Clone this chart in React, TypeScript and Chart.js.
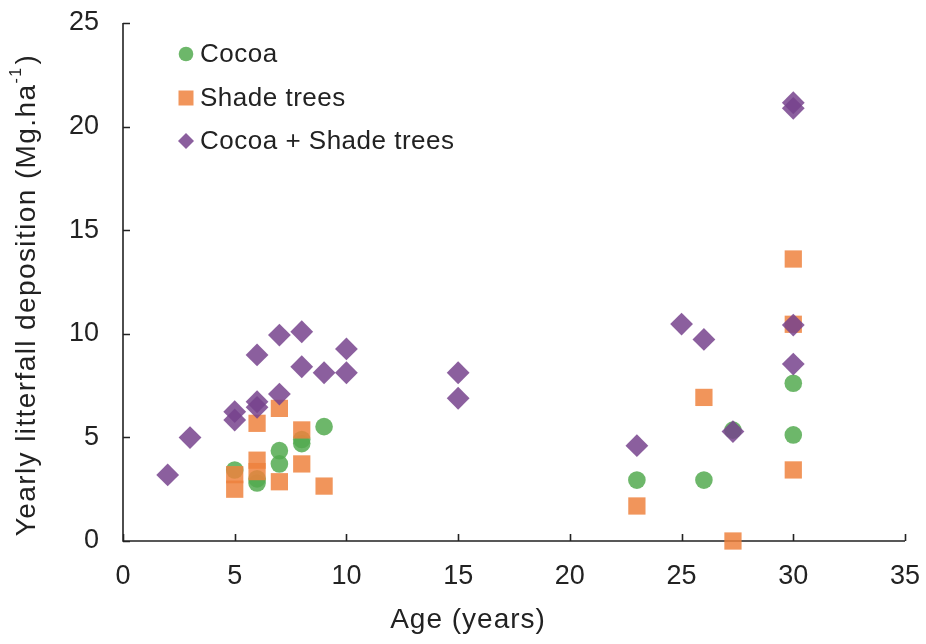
import { useEffect, useRef } from "react";
import { Chart, registerables } from "chart.js";

Chart.register(...registerables);

// ---- data ----
const seriesNames = ["Cocoa", "Shade trees", "Cocoa + Shade trees"];

const cocoaAge = [5, 6, 6, 7, 7, 8, 8, 9, 23, 26, 27.3, 30, 30];
const cocoaLitter = [3.43, 2.8, 3.0, 4.36, 3.72, 4.9, 4.7, 5.52, 2.94, 2.94, 5.35, 7.61, 5.12];

const shadeAge = [5, 5, 6, 6, 6, 7, 7, 8, 8, 9, 23, 26, 27.3, 30, 30, 30];
const shadeLitter = [3.2, 2.5, 5.68, 3.9, 3.35, 6.4, 2.86, 5.36, 3.72, 2.65, 1.69, 6.93, 0.0, 13.61, 10.46, 3.43];

const bothAge = [2, 3, 5, 5, 6, 6, 6, 7, 7, 8, 8, 9, 10, 10, 15, 15, 23, 25, 26, 27.3, 30, 30, 30, 30];
const bothLitter = [3.19, 4.99, 6.24, 5.84, 8.98, 6.72, 6.45, 9.94, 7.09, 10.1, 8.41, 8.12, 9.27, 8.12, 8.12, 6.89, 4.6, 10.47, 9.73, 5.28, 21.15, 20.88, 10.42, 8.54];

const xTickValues = [0, 5, 10, 15, 20, 25, 30, 35];
const yTickValues = [0, 5, 10, 15, 20, 25];

const xTitle = "Age (years)";
const yTitleMain = "Yearly litterfall deposition (Mg.ha";
const yTitleSup = "-1";
const yTitleEnd = ")";

// ---- styles ----
const GREEN = "rgba(84,170,80,0.85)";
const ORANGE = "rgba(238,130,62,0.85)";
const PURPLE = "rgba(119,67,141,0.85)";
const INK = "#222222";
const FONT = "'Liberation Sans', Arial, Helvetica, sans-serif";

const toPoints = (xs: number[], ys: number[]) => xs.map((x, i) => ({ x, y: ys[i] }));

const decorPlugin = {
  id: "decor",
  beforeDatasetsDraw(chart: any) {
    const ctx = chart.ctx;
    const { left, right, top, bottom } = chart.chartArea;
    const xs = chart.scales.x;
    const ys = chart.scales.y;
    ctx.save();
    ctx.strokeStyle = INK;
    ctx.lineWidth = 1.6;
    ctx.beginPath();
    ctx.moveTo(left, top);
    ctx.lineTo(left, bottom);
    ctx.lineTo(right, bottom);
    for (const v of xTickValues) {
      const px = Math.round(xs.getPixelForValue(v)) + 0.5;
      ctx.moveTo(px, bottom);
      ctx.lineTo(px, bottom - 7);
    }
    for (const v of yTickValues) {
      const py = Math.round(ys.getPixelForValue(v)) + 0.5;
      ctx.moveTo(left, py);
      ctx.lineTo(left + 7, py);
    }
    ctx.stroke();
    ctx.restore();
  },
  afterDraw(chart: any) {
    const ctx = chart.ctx;
    ctx.save();
    // legend
    const colors = [GREEN, ORANGE, PURPLE];
    const legendYs = [54, 98, 141];
    const mx = 186;
    ctx.font = `26px ${FONT}`;
    (ctx as any).letterSpacing = "0.5px";
    ctx.textBaseline = "middle";
    ctx.textAlign = "left";
    seriesNames.forEach((name, i) => {
      const y = legendYs[i];
      ctx.fillStyle = colors[i];
      ctx.beginPath();
      if (i === 0) {
        ctx.arc(mx, y, 7.3, 0, Math.PI * 2);
      } else if (i === 1) {
        ctx.rect(mx - 7.5, y - 7.5, 15, 15);
      } else {
        ctx.moveTo(mx, y - 8);
        ctx.lineTo(mx + 8, y);
        ctx.lineTo(mx, y + 8);
        ctx.lineTo(mx - 8, y);
        ctx.closePath();
      }
      ctx.fill();
      ctx.fillStyle = INK;
      ctx.fillText(name, 200, y + 1);
    });

    // x title
    ctx.font = `28px ${FONT}`;
    (ctx as any).letterSpacing = "1px";
    ctx.textAlign = "center";
    ctx.textBaseline = "alphabetic";
    ctx.fillStyle = INK;
    ctx.fillText(xTitle, 468, 628);

    // y title (rotated, with superscript)
    ctx.translate(0, 295);
    ctx.rotate(-Math.PI / 2);
    ctx.textAlign = "left";
    ctx.font = `28px ${FONT}`;
    (ctx as any).letterSpacing = "1.4px";
    const w1 = ctx.measureText(yTitleMain).width;
    const w3 = ctx.measureText(yTitleEnd).width;
    ctx.font = `16px ${FONT}`;
    const w2 = ctx.measureText(yTitleSup).width;
    const total = w1 + w2 + w3 + 2;
    let x0 = -total / 2;
    ctx.font = `28px ${FONT}`;
    ctx.fillText(yTitleMain, x0, 35);
    x0 += w1;
    ctx.font = `16px ${FONT}`;
    ctx.fillText(yTitleSup, x0, 21);
    x0 += w2 + 2;
    ctx.font = `28px ${FONT}`;
    ctx.fillText(yTitleEnd, x0, 35);
    ctx.restore();
  },
};

export default function App() {
  const canvasRef = useRef<HTMLCanvasElement | null>(null);

  useEffect(() => {
    if (!canvasRef.current) return;
    const tickFont = { family: FONT, size: 27 };
    const chart = new Chart(canvasRef.current, {
      type: "scatter",
      data: {
        datasets: [
          {
            label: seriesNames[0],
            data: toPoints(cocoaAge, cocoaLitter),
            pointStyle: "circle",
            pointRadius: 8.8,
            pointBorderWidth: 0,
            backgroundColor: GREEN,
            borderColor: GREEN,
            order: 2,
            clip: false,
          },
          {
            label: seriesNames[1],
            data: toPoints(shadeAge, shadeLitter),
            pointStyle: "rect",
            pointRadius: 12.2,
            pointBorderWidth: 0,
            backgroundColor: ORANGE,
            borderColor: ORANGE,
            order: 1,
            clip: false,
          },
          {
            label: seriesNames[2],
            data: toPoints(bothAge, bothLitter),
            pointStyle: "rectRot",
            pointRadius: 11.4,
            pointBorderWidth: 0,
            backgroundColor: PURPLE,
            borderColor: PURPLE,
            order: 0,
            clip: false,
          },
        ],
      },
      options: {
        animation: false,
        responsive: true,
        maintainAspectRatio: false,
        events: [],
        layout: { padding: { top: 23, right: 21, left: 0, bottom: 0 } },
        plugins: {
          legend: { display: false },
          tooltip: { enabled: false },
        },
        scales: {
          x: {
            type: "linear",
            min: 0,
            max: 35,
            afterBuildTicks: (scale: any) => {
              scale.ticks = xTickValues.map((v) => ({ value: v }));
            },
            ticks: { font: tickFont, color: INK, padding: 19, maxRotation: 0 },
            grid: { display: false, drawTicks: false },
            border: { display: false },
            afterFit: (scale: any) => {
              scale.height = 103;
              scale.paddingLeft = 0;
              scale.paddingRight = 0;
              scale.paddingTop = 0;
              scale.paddingBottom = 0;
            },
          },
          y: {
            type: "linear",
            min: 0,
            max: 25,
            afterBuildTicks: (scale: any) => {
              scale.ticks = yTickValues.map((v) => ({ value: v }));
            },
            ticks: { font: tickFont, color: INK, padding: 24 },
            grid: { display: false, drawTicks: false },
            border: { display: false },
            afterFit: (scale: any) => {
              scale.width = 123;
              scale.paddingLeft = 0;
              scale.paddingRight = 0;
              scale.paddingTop = 0;
              scale.paddingBottom = 0;
            },
          },
        },
      },
      plugins: [decorPlugin],
    } as any);
    return () => chart.destroy();
  }, []);

  return (
    <div style={{ position: "fixed", left: 0, top: 0, width: 926, height: 644, background: "#ffffff" }}>
      <canvas ref={canvasRef} />
    </div>
  );
}
